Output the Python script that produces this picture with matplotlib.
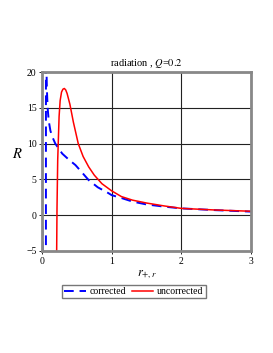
import matplotlib.pyplot as plt

plt.rcParams['font.family'] = 'Liberation Serif'
plt.rcParams['mathtext.fontset'] = 'stix'

# blue dashed curve (corrected), pole near r=0.056
corr_r = [0.002, 0.006, 0.012, 0.03, 0.055, 0.0565, 0.06, 0.07, 0.08, 0.096, 0.12, 0.15, 0.19,
          0.29, 0.38, 0.48, 0.58, 0.67, 0.8, 0.95, 1.0, 1.14, 1.3, 1.5, 1.75, 2.0, 2.5, 3.0]
corr_R = [-1.5, -2.5, -5.5, -20, -60, 60, 22, 17.5, 15, 13.2, 11.8, 10.9, 10.0,
          8.6, 7.8, 7.0, 5.9, 4.9, 3.9, 3.1, 2.8, 2.4, 1.9, 1.5, 1.2, 0.95, 0.7, 0.5]

# red solid curve (uncorrected)
unc_r = [0.20, 0.21, 0.215, 0.225, 0.245, 0.26, 0.28, 0.30, 0.32, 0.34, 0.36, 0.40, 0.45,
         0.52, 0.59, 0.67, 0.75, 0.86, 1.0, 1.14, 1.3, 1.5, 1.75, 2.0, 2.5, 3.0]
unc_R = [-20, -5, 1, 7.7, 13.8, 16.0, 17.2, 17.6, 17.7, 17.5, 17.0, 15.5, 13.0,
         10.0, 8.2, 6.75, 5.6, 4.4, 3.4, 2.6, 2.1, 1.7, 1.3, 0.95, 0.72, 0.55]

fig = plt.figure(figsize=(2.73, 3.53), dpi=100)
ax = fig.add_axes([0.154, 0.289, 0.765, 0.507])

ax.plot(corr_r, corr_R, color='#0000ff', ls=(0, (5, 3)), lw=1.4, label='corrected')
ax.plot(unc_r, unc_R, color='#ff0000', lw=1.1, label='uncorrected')

ax.set_xlim(0, 3)
ax.set_ylim(-5, 20)
ax.set_xticks([0, 1, 2, 3])
ax.set_yticks([-5, 0, 5, 10, 15, 20])
ax.grid(True, color='#222222', lw=0.8)
ax.set_axisbelow(True)
for s in ax.spines.values():
    s.set_color('#888888')
    s.set_linewidth(2)
ax.tick_params(labelsize=7, length=2, width=0.6, pad=2)

ax.set_title(r'radiation , $\mathit{Q}$=$\mathit{0.2}$', fontsize=7.5, pad=4)
ax.set_ylabel(r'$R$', fontsize=10.5, rotation=0, labelpad=6)
ax.set_xlabel(r'$r_{+,r}$', fontsize=9, labelpad=2)

ax.legend(loc='upper center', bbox_to_anchor=(0.44, -0.19), ncol=2, fontsize=7,
          frameon=True, fancybox=False, edgecolor='#555555', handlelength=2.2,
          handletextpad=0.4, columnspacing=0.6, borderpad=0.2, borderaxespad=0)

fig.savefig('out.png', dpi=100)
